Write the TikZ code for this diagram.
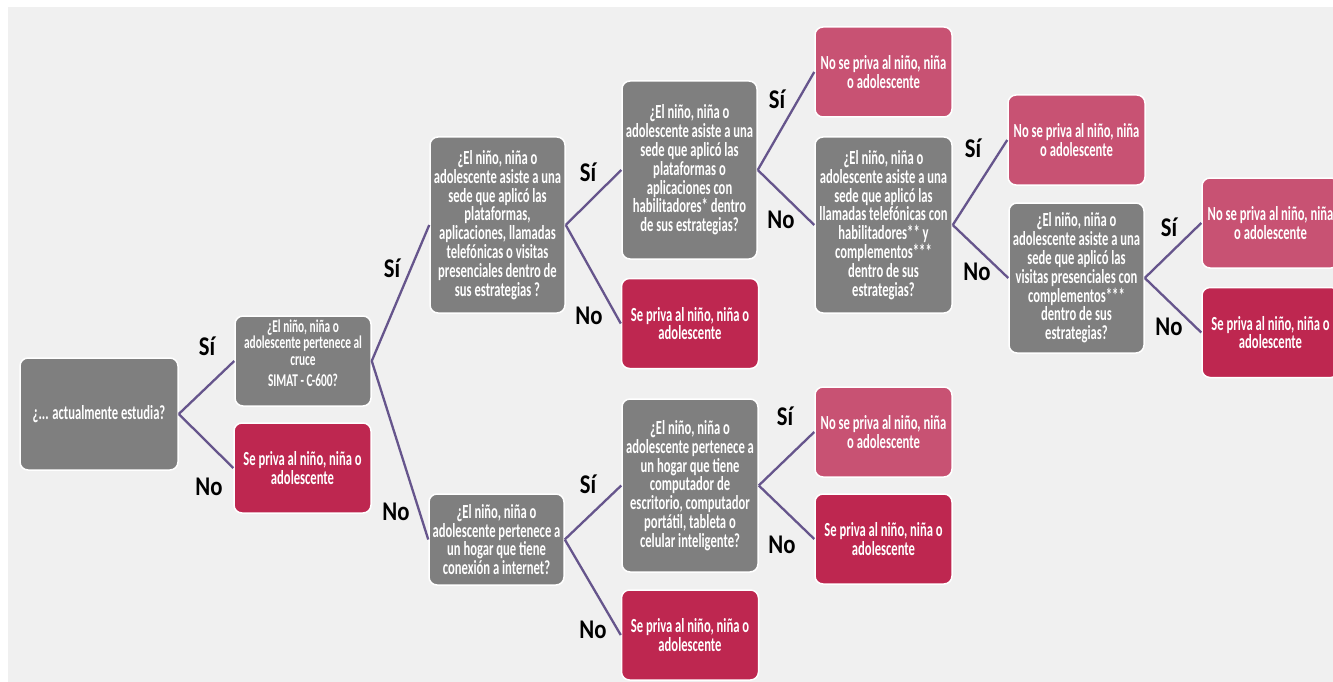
\documentclass[tikz,border=0pt]{standalone}
\usepackage{fontspec}
\newfontfamily\nodefont{Carlito}[FakeStretch=0.63]
\newfontfamily\labfont{Carlito}[FakeStretch=0.84]
\definecolor{qgray}{RGB}{127,127,127}
\definecolor{privred}{RGB}{190,39,80}
\definecolor{noprivpink}{RGB}{200,82,115}
\definecolor{bggray}{RGB}{240,240,240}
\definecolor{connpurple}{RGB}{102,85,140}
\tikzset{
  box/.style={rounded corners=8pt, draw=white, line width=1.5pt, text=white, align=center, inner sep=0pt,
    font=\nodefont\bfseries\fontsize{20}{18.8}\selectfont},
  qbox/.style={box, fill=qgray},
  privbox/.style={box, fill=privred, minimum width=137pt, minimum height=90pt},
  noprivbox/.style={box, fill=noprivpink, minimum width=137pt, minimum height=90pt},
  conn/.style={draw=connpurple, line width=2.3pt},
  lab/.style={font=\labfont\bfseries\fontsize{27}{30}\selectfont, text=black, inner sep=0pt}
}
\begin{document}
\begin{tikzpicture}[x=1pt,y=-1pt]
\useasboundingbox (0,0) rectangle (1333,682);
\fill[bggray] (8,7) rectangle (1340,690);

% question nodes
\node[qbox, minimum width=158pt, minimum height=112pt] (root) at (99,414) {¿... actualmente estudia?};
\node[qbox, minimum width=136pt, minimum height=90pt] (A) at (303,361) {};
\node[text=white, align=center, inner sep=0pt, font=\nodefont\bfseries\fontsize{18}{16.5}\selectfont] (Atext) at (303,353)
  {¿El niño, niña o\\adolescente pertenece al\\cruce\\[5pt]SIMAT - C-600?};
\node[qbox, minimum width=135pt, minimum height=176pt] (B) at (497.5,225)
  {¿El niño, niña o\\adolescente asiste a una\\sede que aplicó las\\plataformas,\\aplicaciones, llamadas\\telefónicas o visitas\\presenciales dentro de\\sus estrategias ?};
\node[qbox, minimum width=135pt, minimum height=91pt] (C) at (496.5,539.5)
  {¿El niño, niña o\\adolescente pertenece a\\un hogar que tiene\\conexión a internet?};
\node[qbox, minimum width=135pt, minimum height=178pt] (D) at (689.5,170)
  {¿El niño, niña o\\adolescente asiste a una\\sede que aplicó las\\plataformas o\\aplicaciones con\\habilitadores* dentro\\de sus estrategias?};
\node[qbox, minimum width=136pt, minimum height=173pt] (G) at (690,485.5)
  {¿El niño, niña o\\adolescente pertenece a\\un hogar que tiene\\computador de\\escritorio, computador\\portátil, tableta o\\celular inteligente?};
\node[qbox, minimum width=137pt, minimum height=176pt] (E) at (883.5,225)
  {¿El niño, niña o\\adolescente asiste a una\\sede que aplicó las\\llamadas telefónicas con\\habilitadores** y\\complementos***\\dentro de sus\\estrategias?};
\node[qbox, minimum width=135pt, minimum height=150pt] (F) at (1076.5,278)
  {¿El niño, niña o\\adolescente asiste a una\\sede que aplicó las\\visitas presenciales con\\complementos***\\dentro de sus\\estrategias?};

% outcome nodes
\node[privbox] (rootNo) at (302.5,468) {Se priva al niño, niña o\\adolescente};
\node[privbox] (BNo) at (690,323.5) {Se priva al niño, niña o\\adolescente};
\node[privbox] (CNo) at (690,635) {Se priva al niño, niña o\\adolescente};
\node[noprivbox] (DSi) at (883.5,72) {No se priva al niño, niña\\o adolescente};
\node[noprivbox] (GSi) at (883.5,432) {No se priva al niño, niña\\o adolescente};
\node[privbox] (GNo) at (883.5,539) {Se priva al niño, niña o\\adolescente};
\node[noprivbox] (ESi) at (1076.5,140) {No se priva al niño, niña\\o adolescente};
\node[noprivbox] (FSi) at (1270.5,223) {No se priva al niño, niña\\o adolescente};
\node[privbox] (FNo) at (1270.5,332.5) {Se priva al niño, niña o\\adolescente};

% connectors
\draw[conn] (root.east) -- (A.west);
\draw[conn] (root.east) -- (rootNo.west);
\draw[conn] (A.east) -- (B.west);
\draw[conn] (A.east) -- (C.west);
\draw[conn] (B.east) -- (D.west);
\draw[conn] (B.east) -- (BNo.west);
\draw[conn] (C.east) -- (G.west);
\draw[conn] (C.east) -- (CNo.west);
\draw[conn] (D.east) -- (DSi.west);
\draw[conn] (D.east) -- (E.west);
\draw[conn] (G.east) -- (GSi.west);
\draw[conn] (G.east) -- (GNo.west);
\draw[conn] (E.east) -- (ESi.west);
\draw[conn] (E.east) -- (F.west);
\draw[conn] (F.east) -- (FSi.west);
\draw[conn] (F.east) -- (FNo.west);

% labels
\node[lab] (l1) at (207,346) {Sí};
\node[lab] (l2) at (209,487) {No};
\node[lab] (l3) at (392,268) {Sí};
\node[lab] (l4) at (396,512) {No};
\node[lab] (l5) at (588,172) {Sí};
\node[lab] (l6) at (589,316) {No};
\node[lab] (l7) at (588,484) {Sí};
\node[lab] (l8) at (593,630) {No};
\node[lab] (l9) at (777,99) {Sí};
\node[lab] (l10) at (781,220) {No};
\node[lab] (l11) at (785,416) {Sí};
\node[lab] (l12) at (782,545) {No};
\node[lab] (l13) at (973,148) {Sí};
\node[lab] (l14) at (977,272) {No};
\node[lab] (l15) at (1169,227) {Sí};
\node[lab] (l16) at (1169,327) {No};
\end{tikzpicture}
\end{document}
